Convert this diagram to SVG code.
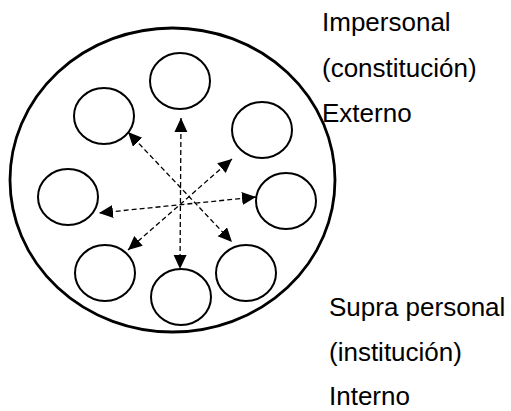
<svg xmlns="http://www.w3.org/2000/svg" width="511" height="411" viewBox="0 0 511 411">
  <style>
    .outer { fill: none; stroke: #000; stroke-width: 2.8; }
    .member { fill: #fff; stroke: #000; stroke-width: 2; }
    .link { fill: none; stroke: #000; stroke-width: 1.3; stroke-dasharray: 5 3; marker-start: url(#head); marker-end: url(#head); }
    .label { font-family: "Liberation Sans", Arial, sans-serif; font-size: 26px; fill: #000; }
  </style>
  <defs>
    <marker id="head" markerUnits="userSpaceOnUse" markerWidth="15" markerHeight="14" refX="14" refY="6.5" orient="auto-start-reverse">
      <path d="M0,0 L14,6.5 L0,13 z" fill="#000"/>
    </marker>
  </defs>
  <rect width="511" height="411" fill="#fff"/>

  <!-- enclosing circle -->
  <g id="outer">
    <ellipse class="outer" cx="172.5" cy="180" rx="162.5" ry="152"/>
  </g>

  <!-- member circles -->
  <g id="node-top"><ellipse class="member" cx="180" cy="81" rx="30" ry="28"/></g>
  <g id="node-upper-left"><ellipse class="member" cx="104" cy="116" rx="30" ry="28"/></g>
  <g id="node-upper-right"><ellipse class="member" cx="262" cy="130" rx="30" ry="28"/></g>
  <g id="node-left"><ellipse class="member" cx="68" cy="197" rx="30" ry="28"/></g>
  <g id="node-right"><ellipse class="member" cx="286" cy="201" rx="30" ry="28"/></g>
  <g id="node-lower-left"><ellipse class="member" cx="105" cy="273" rx="30" ry="28"/></g>
  <g id="node-bottom"><ellipse class="member" cx="181" cy="297" rx="30" ry="28"/></g>
  <g id="node-lower-right"><ellipse class="member" cx="246" cy="273" rx="30" ry="28"/></g>

  <!-- dashed double-headed connectors -->
  <g id="connectors">
    <line class="link" x1="181" y1="118" x2="180" y2="269"/>
    <line class="link" x1="128" y1="132" x2="232" y2="242"/>
    <line class="link" x1="232" y1="159" x2="128" y2="250"/>
    <line class="link" x1="256" y1="197" x2="99" y2="213"/>
  </g>

  <!-- labels -->
  <g id="label-top">
    <text class="label" x="322" y="31">Impersonal</text>
    <text class="label" x="322" y="77">(constitución)</text>
    <text class="label" x="322" y="122">Externo</text>
  </g>
  <g id="label-bottom">
    <text class="label" x="329" y="316">Supra personal</text>
    <text class="label" x="329" y="361">(institución)</text>
    <text class="label" x="329" y="405">Interno</text>
  </g>
</svg>
